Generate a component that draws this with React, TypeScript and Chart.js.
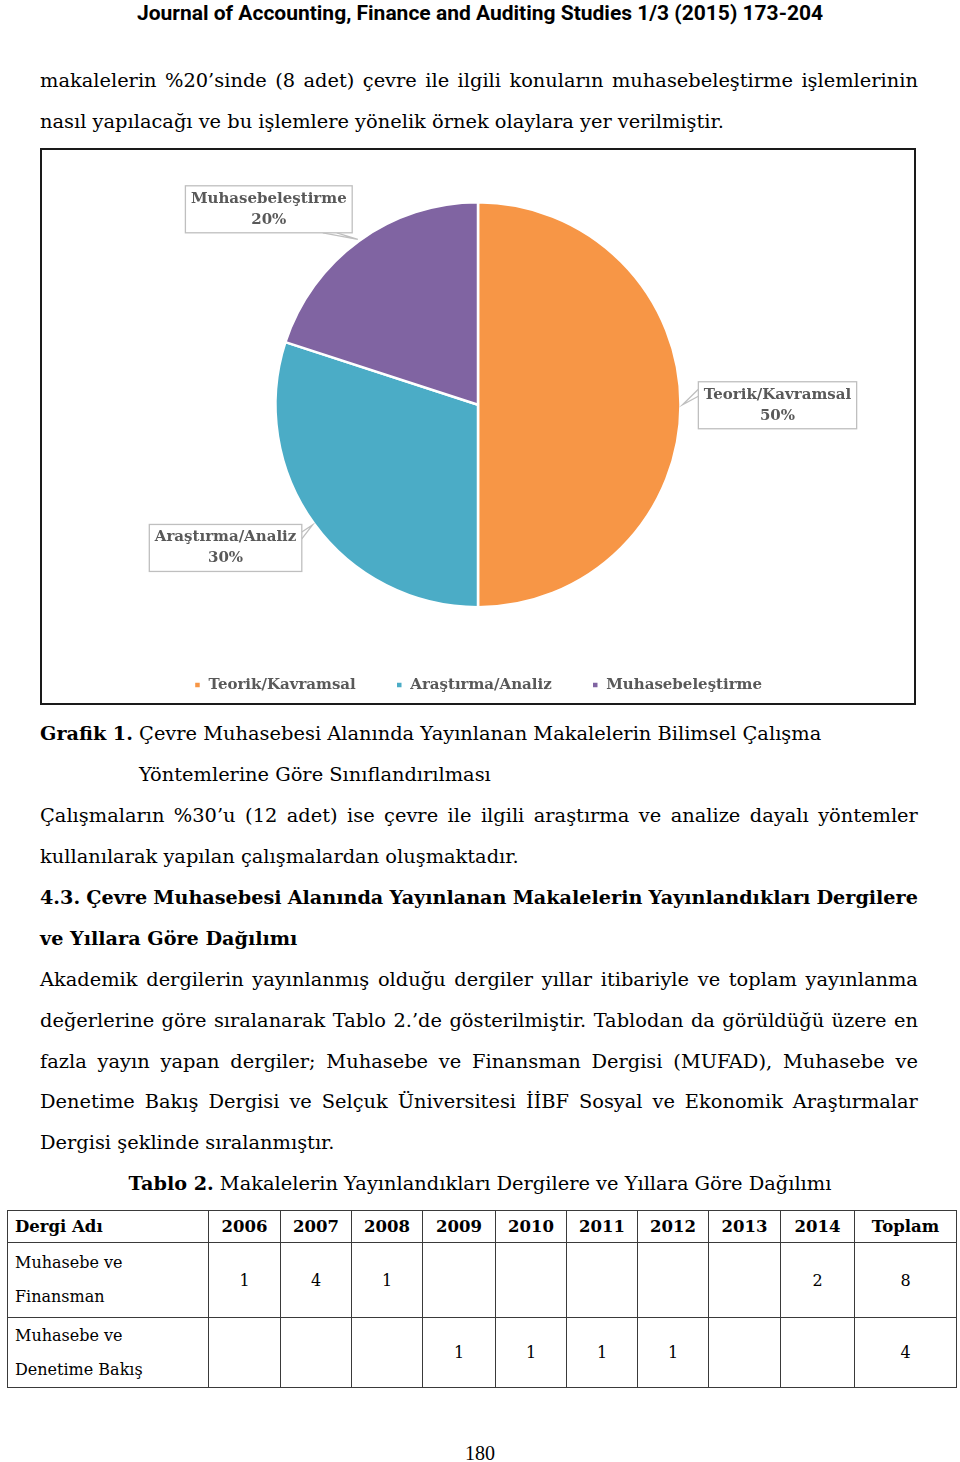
import React, { useEffect, useRef } from "react";
import { Chart, registerables } from "chart.js";

Chart.register(...registerables);

// ---------- chart data ----------
const categories = ["Teorik/Kavramsal", "Araştırma/Analiz", "Muhasebeleştirme"];
const shares = [50, 30, 20];
const sliceColors = ["#F79646", "#4BACC6", "#8064A2"];

// ---------- table data ----------
const years = ["2006", "2007", "2008", "2009", "2010", "2011", "2012", "2013", "2014"];
const journalNames = [
  ["Muhasebe ve", "Finansman"],
  ["Muhasebe ve", "Denetime Bakış"],
];
const mufadCounts: (number | null)[] = [1, 4, 1, null, null, null, null, null, 2];
const madCounts: (number | null)[] = [null, null, null, 1, 1, 1, 1, null, null];
const journalTotals = [8, 4];

const SERIF = "'DejaVu Serif', 'Liberation Serif', serif";
const CHART_FONT = "'DejaVu Serif', serif";
const LABEL_GRAY = "#595959";
const BOX_GRAY = "#BFBFBF";
const BODY_SIZE = 19.4;
const BOLD_SIZE = 19.2;

// callout placement relative to the slice's outer mid point (layout only)
const calloutLayout = [
  { dx: 95, dy: 0.5, side: "left", b1: -16, b2: -9 },
  { dx: -87, dy: 23, side: "right", b1: -16, b2: -9 },
  { dx: -89, dy: -30, side: "bottom", b1: 54, b2: 68 },
];

const calloutPlugin = {
  id: "callouts",
  afterDatasetsDraw(chart: any) {
    const ctx = chart.ctx as CanvasRenderingContext2D;
    const meta = chart.getDatasetMeta(0);
    const total = shares.reduce((a, b) => a + b, 0);
    meta.data.forEach((arc: any, i: number) => {
      const p = arc.getProps(["x", "y", "startAngle", "endAngle", "outerRadius"], true);
      const mid = (p.startAngle + p.endAngle) / 2;
      const ax = p.x + Math.cos(mid) * (p.outerRadius + 2);
      const ay = p.y + Math.sin(mid) * (p.outerRadius + 2);
      const l1 = categories[i];
      const l2 = Math.round((shares[i] / total) * 100) + "%";
      ctx.save();
      ctx.font = "bold 15px " + CHART_FONT;
      const tw = Math.max(ctx.measureText(l1).width, ctx.measureText(l2).width);
      const bw = tw + 11;
      const bh = 47;
      const lay = calloutLayout[i];
      const cx = ax + lay.dx;
      const cy = ay + lay.dy;
      const bx = cx - bw / 2;
      const by = cy - bh / 2;
      let p1: [number, number], p2: [number, number];
      if (lay.side === "left") {
        p1 = [bx, cy + lay.b1];
        p2 = [bx, cy + lay.b2];
      } else if (lay.side === "right") {
        p1 = [bx + bw, cy + lay.b1];
        p2 = [bx + bw, cy + lay.b2];
      } else {
        p1 = [cx + lay.b1, by + bh];
        p2 = [cx + lay.b2, by + bh];
      }
      ctx.lineWidth = 1.3;
      ctx.strokeStyle = BOX_GRAY;
      ctx.fillStyle = "#ffffff";
      ctx.beginPath();
      ctx.moveTo(p1[0], p1[1]);
      ctx.lineTo(ax, ay);
      ctx.lineTo(p2[0], p2[1]);
      ctx.closePath();
      ctx.fill();
      ctx.beginPath();
      ctx.moveTo(p1[0], p1[1]);
      ctx.lineTo(ax, ay);
      ctx.lineTo(p2[0], p2[1]);
      ctx.stroke();
      ctx.fillRect(bx, by, bw, bh);
      ctx.strokeRect(bx, by, bw, bh);
      ctx.fillStyle = LABEL_GRAY;
      ctx.textAlign = "center";
      ctx.textBaseline = "middle";
      ctx.fillText(l1, cx, cy - 10.5);
      ctx.fillText(l2, cx, cy + 10.5);
      ctx.restore();
    });
  },
};

function PieChart() {
  const ref = useRef<HTMLCanvasElement | null>(null);
  useEffect(() => {
    if (!ref.current) return;
    const chart = new Chart(ref.current, {
      type: "pie",
      data: {
        labels: categories,
        datasets: [
          {
            data: shares,
            backgroundColor: sliceColors,
            borderColor: "#ffffff",
            borderWidth: 2.5,
          },
        ],
      },
      options: {
        animation: false,
        responsive: true,
        maintainAspectRatio: false,
        layout: { padding: { top: 51, bottom: 0.5, left: 0, right: 0 } },
        plugins: {
          tooltip: { enabled: false },
          legend: {
            position: "bottom",
            title: { display: true, text: "", padding: { top: 17, bottom: 0 }, font: { size: 10 } },
            labels: {
              usePointStyle: true,
              pointStyle: "rect",
              boxWidth: 7,
              boxHeight: 7,
              padding: 40,
              color: LABEL_GRAY,
              font: { family: CHART_FONT, size: 15, weight: "bold" },
            },
          },
        },
      },
      plugins: [calloutPlugin],
    } as any);
    return () => chart.destroy();
  }, []);
  return <canvas ref={ref} />;
}

type LineProps = {
  y: number;
  x?: number;
  w?: number;
  bold?: boolean;
  size?: number;
  family?: string;
  align?: "left" | "center";
  children: React.ReactNode;
};

function Line({ y, x = 40, w = 878, bold = false, size, family = SERIF, align = "left", children }: LineProps) {
  const lh = 30;
  const style: React.CSSProperties = {
    position: "absolute",
    left: x,
    top: y - lh / 2,
    width: w,
    lineHeight: lh + "px",
    fontSize: size ?? (bold ? BOLD_SIZE : BODY_SIZE),
    fontFamily: family,
    fontWeight: bold ? 700 : 400,
    color: "#000",
    textAlign: align,
    whiteSpace: "nowrap",
  };
  return <div style={style}>{children}</div>;
}

// fully justified line: words spread across the full text width
function JLine({ y, text, bold = false }: { y: number; text: string; bold?: boolean }) {
  const lh = 30;
  const words = text.split(" ");
  return (
    <div
      style={{
        position: "absolute",
        left: 40,
        top: y - lh / 2,
        width: 878,
        height: lh,
        lineHeight: lh + "px",
        display: "flex",
        justifyContent: "space-between",
        fontSize: bold ? BOLD_SIZE : BODY_SIZE,
        fontFamily: SERIF,
        fontWeight: bold ? 700 : 400,
        color: "#000",
        whiteSpace: "nowrap",
      }}
    >
      {words.map((wd, i) => (
        <span key={i}>{wd}</span>
      ))}
    </div>
  );
}

const colWidths = [201, 72, 71, 71, 73, 71, 71, 71, 72, 74, 102];

function DataTable() {
  const cell: React.CSSProperties = {
    border: "1.5px solid #3a3a3a",
    padding: 0,
    textAlign: "center",
    verticalAlign: "middle",
    fontFamily: SERIF,
    fontSize: 16,
  };
  const head: React.CSSProperties = { ...cell, fontWeight: 700, fontSize: 16.5 };
  const rows = [mufadCounts, madCounts];
  return (
    <table
      style={{
        position: "absolute",
        left: 7,
        top: 1210,
        width: 949,
        borderCollapse: "collapse",
        tableLayout: "fixed",
      }}
    >
      <colgroup>
        {colWidths.map((w, i) => (
          <col key={i} style={{ width: w }} />
        ))}
      </colgroup>
      <tbody>
        <tr style={{ height: 32 }}>
          <td style={{ ...head, textAlign: "left", paddingLeft: 7 }}>Dergi Adı</td>
          {years.map((y) => (
            <td key={y} style={head}>
              {y}
            </td>
          ))}
          <td style={head}>Toplam</td>
        </tr>
        {rows.map((r, ri) => (
          <tr key={ri} style={{ height: ri === 0 ? 75 : 70 }}>
            <td style={{ ...cell, textAlign: "left", paddingLeft: 7, lineHeight: "34px" }}>
              {journalNames[ri][0]}
              <br />
              {journalNames[ri][1]}
            </td>
            {r.map((v, ci) => (
              <td key={ci} style={cell}>
                {v === null ? "" : v}
              </td>
            ))}
            <td style={cell}>{journalTotals[ri]}</td>
          </tr>
        ))}
      </tbody>
    </table>
  );
}

export default function App() {
  return (
    <div
      style={{
        position: "absolute",
        left: 0,
        top: 0,
        width: 960,
        height: 1462,
        background: "#fff",
        overflow: "hidden",
      }}
    >
      <div
        style={{
          position: "absolute",
          left: 0,
          top: 0,
          width: 960,
          textAlign: "center",
          lineHeight: "26px",
          fontFamily: "'Liberation Sans Narrow', 'Roboto', sans-serif",
          fontWeight: 700,
          fontSize: 21,
          color: "#000",
        }}
      >
        Journal of Accounting, Finance and Auditing Studies 1/3 (2015) 173-204
      </div>

      <JLine y={81} text="makalelerin %20’sinde (8 adet) çevre ile ilgili konuların muhasebeleştirme işlemlerinin" />
      <Line y={122}>nasıl yapılacağı ve bu işlemlere yönelik örnek olaylara yer verilmiştir.</Line>

      <div
        style={{
          position: "absolute",
          left: 40,
          top: 148,
          width: 876,
          height: 557,
          border: "2px solid #1a1a1a",
          boxSizing: "border-box",
          background: "#fff",
        }}
      >
        <div style={{ position: "relative", width: 872, height: 553 }}>
          <PieChart />
        </div>
      </div>

      <Line y={734}>
        <b style={{ fontSize: BOLD_SIZE }}>Grafik 1.</b> Çevre Muhasebesi Alanında Yayınlanan Makalelerin Bilimsel Çalışma
      </Line>
      <Line y={775} x={139}>
        Yöntemlerine Göre Sınıflandırılması
      </Line>
      <JLine y={816} text="Çalışmaların %30’u (12 adet) ise çevre ile ilgili araştırma ve analize dayalı yöntemler" />
      <Line y={857}>kullanılarak yapılan çalışmalardan oluşmaktadır.</Line>
      <JLine y={898} bold text="4.3. Çevre Muhasebesi Alanında Yayınlanan Makalelerin Yayınlandıkları Dergilere" />
      <Line y={939} bold>
        ve Yıllara Göre Dağılımı
      </Line>
      <JLine y={980} text="Akademik dergilerin yayınlanmış olduğu dergiler yıllar itibariyle ve toplam yayınlanma" />
      <JLine y={1021} text="değerlerine göre sıralanarak Tablo 2.’de gösterilmiştir. Tablodan da görüldüğü üzere en" />
      <JLine y={1062} text="fazla yayın yapan dergiler; Muhasebe ve Finansman Dergisi (MUFAD), Muhasebe ve" />
      <JLine y={1102} text="Denetime Bakış Dergisi ve Selçuk Üniversitesi İİBF Sosyal ve Ekonomik Araştırmalar" />
      <Line y={1143}>Dergisi şeklinde sıralanmıştır.</Line>
      <Line y={1184} x={0} w={960} align="center">
        <b style={{ fontSize: BOLD_SIZE }}>Tablo 2.</b> Makalelerin Yayınlandıkları Dergilere ve Yıllara Göre Dağılımı
      </Line>

      <DataTable />

      <Line y={1453} x={0} w={960} align="center" size={20} family="'Liberation Serif', serif">
        180
      </Line>
    </div>
  );
}
